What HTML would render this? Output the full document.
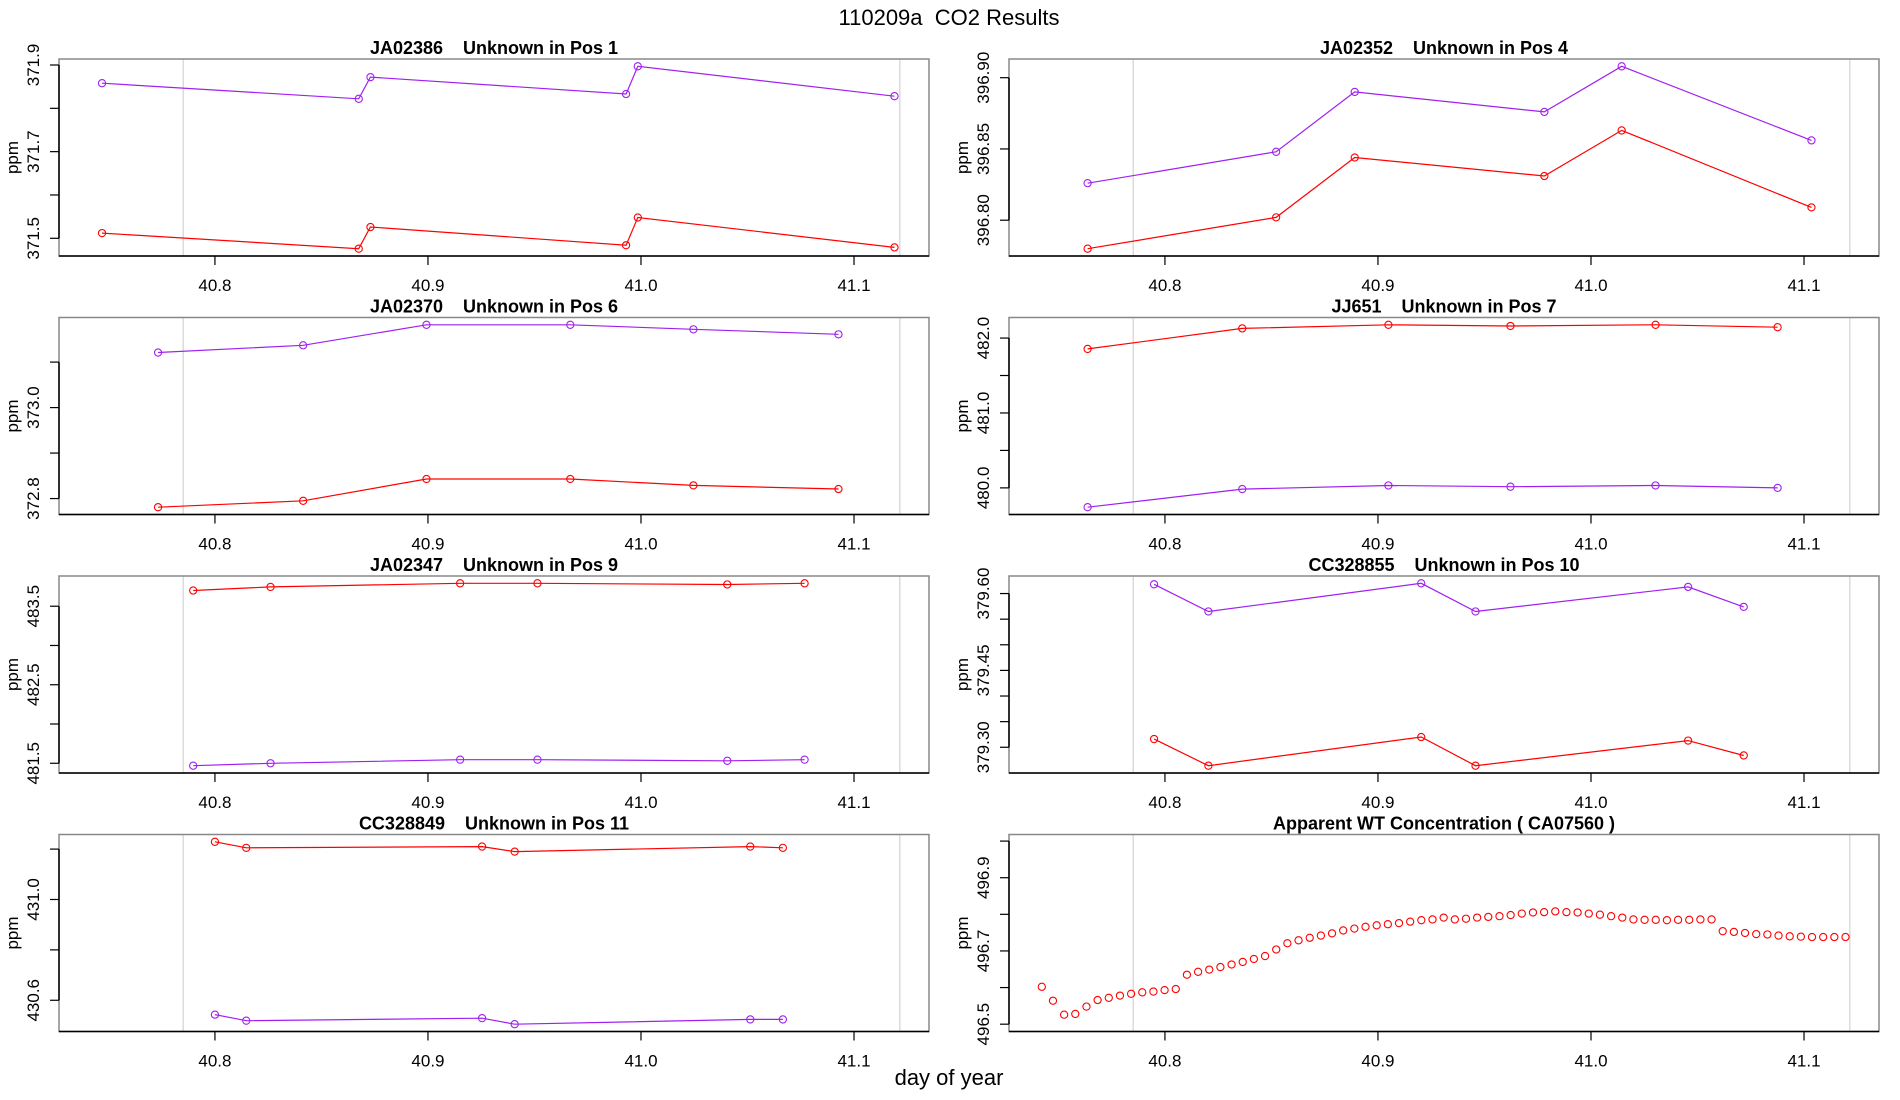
<!DOCTYPE html>
<html><head><meta charset="utf-8"><style>
html,body{margin:0;padding:0;background:#fff;}
svg{display:block;font-family:"Liberation Sans",sans-serif;}
svg text{white-space:pre;}
</style></head><body>
<svg id="chart" width="1900" height="1100" viewBox="0 0 1900 1100" xmlns="http://www.w3.org/2000/svg" xml:space="preserve">
<text x="949" y="25" font-size="22" text-anchor="middle">110209a  CO2 Results</text>
<text x="949" y="1085" font-size="22" text-anchor="middle">day of year</text>
</svg>
<script>
const xTicks = [40.8, 40.9, 41.0, 41.1];
const xTickLabels = ["40.8", "40.9", "41.0", "41.1"];
const grayLines = [40.7851, 41.1215];

const p1Days = [40.747, 40.8675, 40.873, 40.993, 40.9985, 41.119];
const p1Purple = [371.858, 371.822, 371.872, 371.833, 371.897, 371.828];
const p1Red = [371.512, 371.476, 371.526, 371.484, 371.548, 371.479];
const p1Ticks = [371.5, 371.6, 371.7, 371.8, 371.9];
const p1Labels = ["371.5", "", "371.7", "", "371.9"];

const p2Days = [40.7637, 40.8522, 40.8891, 40.9781, 41.0144, 41.1035];
const p2Purple = [396.826, 396.848, 396.890, 396.876, 396.908, 396.856];
const p2Red = [396.780, 396.802, 396.844, 396.831, 396.863, 396.809];
const p2Ticks = [396.80, 396.85, 396.90];
const p2Labels = ["396.80", "396.85", "396.90"];

const p3Days = [40.7733, 40.8414, 40.8993, 40.9668, 41.0246, 41.0927];
const p3Purple = [373.121, 373.137, 373.182, 373.182, 373.172, 373.161];
const p3Red = [372.781, 372.795, 372.843, 372.843, 372.829, 372.821];
const p3Ticks = [372.8, 372.9, 373.0, 373.1];
const p3Labels = ["372.8", "", "373.0", ""];

const p4Days = [40.7637, 40.8363, 40.9049, 40.9622, 41.0303, 41.0876];
const p4Purple = [479.742, 479.984, 480.032, 480.016, 480.032, 480.0];
const p4Red = [481.855, 482.129, 482.177, 482.161, 482.177, 482.145];
const p4Ticks = [480.0, 480.5, 481.0, 481.5, 482.0];
const p4Labels = ["480.0", "", "481.0", "", "482.0"];

const p5Days = [40.7898, 40.8261, 40.9151, 40.9514, 41.0405, 41.0768];
const p5Purple = [481.469, 481.5, 481.546, 481.546, 481.531, 481.546];
const p5Red = [483.70, 483.746, 483.792, 483.792, 483.777, 483.792];
const p5Ticks = [481.5, 482.0, 482.5, 483.0, 483.5];
const p5Labels = ["481.5", "", "482.5", "", "483.5"];

const p6Days = [40.7949, 40.8204, 40.9203, 40.9458, 41.0456, 41.0717];
const p6Purple = [379.618, 379.565, 379.620, 379.565, 379.613, 379.574];
const p6Red = [379.316, 379.264, 379.320, 379.264, 379.313, 379.284];
const p6Ticks = [379.30, 379.35, 379.40, 379.45, 379.50, 379.55, 379.60];
const p6Labels = ["379.30", "", "", "379.45", "", "", "379.60"];

const p7Days = [40.8, 40.8147, 40.9254, 40.9407, 41.0513, 41.0666];
const p7Purple = [430.543, 430.519, 430.529, 430.505, 430.524, 430.524];
const p7Red = [431.229, 431.205, 431.21, 431.19, 431.21, 431.205];
const p7Ticks = [430.6, 430.8, 431.0, 431.2];
const p7Labels = ["430.6", "", "431.0", ""];

const p8Start = 40.7422;
const p8Step = 0.00524;
const p8Values = [496.602,496.564,496.526,496.528,496.548,496.566,496.572,496.578,496.583,496.587,
496.589,496.593,496.596,496.635,496.643,496.649,496.656,496.663,496.670,496.678,
496.686,496.704,496.721,496.729,496.736,496.742,496.748,496.756,496.761,496.766,
496.770,496.773,496.776,496.780,496.784,496.786,496.791,496.786,496.788,496.791,
496.793,496.795,496.798,496.802,496.805,496.806,496.808,496.806,496.805,496.802,
496.799,496.795,496.791,496.786,496.785,496.785,496.784,496.785,496.785,496.786,
496.786,496.754,496.752,496.749,496.746,496.745,496.742,496.740,496.739,496.738,
496.738,496.738,496.738];
const p8Ylim = [496.48, 497.018];
const p8Ticks = [496.5, 496.6, 496.7, 496.8, 496.9, 497.0];
const p8Labels = ["496.5", "", "496.7", "", "496.9", ""];

const NS = "http://www.w3.org/2000/svg";
const svg = document.getElementById("chart");
const XLIM = [40.7268, 41.1352];
const PW = 870, PH = 197;
const LEFTS = [59, 1009];
const TOPS = [59, 317.5, 576, 834.5];
const PURPLE = "#A020F0", RED = "#FF0000";

function mk(tag, attrs, parent) {
  const e = document.createElementNS(NS, tag);
  for (const k in attrs) e.setAttribute(k, attrs[k]);
  (parent || svg).appendChild(e);
  return e;
}
function ext(arrs) {
  let mn = Infinity, mx = -Infinity;
  arrs.forEach(a => a.forEach(v => { mn = Math.min(mn, v); mx = Math.max(mx, v); }));
  const d = (mx - mn) * 0.04;
  return [mn - d, mx + d];
}

function panel(idx, title, days, series, ylim, ticks, labels) {
  const col = idx % 2, row = Math.floor(idx / 2);
  const L = LEFTS[col], T = TOPS[row], B = T + PH, R = L + PW;
  const g = mk("g", {});
  
  
  const sx = v => L + (v - XLIM[0]) / (XLIM[1] - XLIM[0]) * PW;
  const sy = v => B - (v - ylim[0]) / (ylim[1] - ylim[0]) * PH;

  grayLines.forEach(d => {
    const ln = mk("line", {x1: sx(d), x2: sx(d), y1: T, y2: B, stroke: "#d3d3d3", "stroke-width": 1.2}, g);
    
    
  });
  const box = mk("rect", {x: L, y: T, width: PW, height: PH, fill: "none", stroke: "#888", "stroke-width": 1.5}, g);
  
  

  const tt = mk("text", {x: L + PW / 2, y: T - 5, "font-size": 18, "font-weight": "bold", "text-anchor": "middle"}, g);
  tt.textContent = title;
  
  

  const xa = mk("line", {x1: L, x2: R, y1: B, y2: B, stroke: "#000", "stroke-width": 1.5}, g);
  
  
  xTicks.forEach((t, i) => {
    const tk = mk("line", {x1: sx(t), x2: sx(t), y1: B, y2: B + 9, stroke: "#000", "stroke-width": 1.2}, g);
    
    
    const lb = mk("text", {x: sx(t), y: B + 35, "font-size": 17, "text-anchor": "middle"}, g);
    lb.textContent = xTickLabels[i];
    
    
  });

  const ya = mk("line", {x1: L, x2: L, y1: sy(ticks[ticks.length - 1]), y2: sy(ticks[0]), stroke: "#000", "stroke-width": 1.5}, g);
  
  
  ticks.forEach((t, i) => {
    const y = sy(t);
    const tk = mk("line", {x1: L - 9, x2: L, y1: y, y2: y, stroke: "#000", "stroke-width": 1.2}, g);
    
    
    if (labels[i]) {
      const lb = mk("text", {x: 0, y: 0, "font-size": 17, "text-anchor": "middle", transform: `translate(${L - 20},${y}) rotate(-90)`}, g);
      lb.textContent = labels[i];
      
      
    }
  });
  const yl = mk("text", {x: 0, y: 0, "font-size": 17, "text-anchor": "middle", transform: `translate(${L - 41},${T + PH / 2}) rotate(-90)`}, g);
  yl.textContent = "ppm";
  
  

  series.forEach(s => {
    if (s.line) {
      const pts = days.map((d, i) => sx(d).toFixed(1) + "," + sy(s.values[i]).toFixed(1)).join(" ");
      const pl = mk("polyline", {points: pts, fill: "none", stroke: s.color, "stroke-width": 1.2}, g);
      
      
    }
    s.values.forEach((v, i) => {
      const c = mk("circle", {cx: sx(days[i]), cy: sy(v), r: 3.6, fill: "none", stroke: s.color, "stroke-width": 1.1}, g);
      
      
    });
  });
}

panel(0, "JA02386    Unknown in Pos 1", p1Days,
  [{name: "purple-series", color: PURPLE, values: p1Purple, line: true}, {name: "red-series", color: RED, values: p1Red, line: true}],
  ext([p1Purple, p1Red]), p1Ticks, p1Labels);
panel(1, "JA02352    Unknown in Pos 4", p2Days,
  [{name: "purple-series", color: PURPLE, values: p2Purple, line: true}, {name: "red-series", color: RED, values: p2Red, line: true}],
  ext([p2Purple, p2Red]), p2Ticks, p2Labels);
panel(2, "JA02370    Unknown in Pos 6", p3Days,
  [{name: "purple-series", color: PURPLE, values: p3Purple, line: true}, {name: "red-series", color: RED, values: p3Red, line: true}],
  ext([p3Purple, p3Red]), p3Ticks, p3Labels);
panel(3, "JJ651    Unknown in Pos 7", p4Days,
  [{name: "purple-series", color: PURPLE, values: p4Purple, line: true}, {name: "red-series", color: RED, values: p4Red, line: true}],
  ext([p4Purple, p4Red]), p4Ticks, p4Labels);
panel(4, "JA02347    Unknown in Pos 9", p5Days,
  [{name: "purple-series", color: PURPLE, values: p5Purple, line: true}, {name: "red-series", color: RED, values: p5Red, line: true}],
  ext([p5Purple, p5Red]), p5Ticks, p5Labels);
panel(5, "CC328855    Unknown in Pos 10", p6Days,
  [{name: "purple-series", color: PURPLE, values: p6Purple, line: true}, {name: "red-series", color: RED, values: p6Red, line: true}],
  ext([p6Purple, p6Red]), p6Ticks, p6Labels);
panel(6, "CC328849    Unknown in Pos 11", p7Days,
  [{name: "purple-series", color: PURPLE, values: p7Purple, line: true}, {name: "red-series", color: RED, values: p7Red, line: true}],
  ext([p7Purple, p7Red]), p7Ticks, p7Labels);
const p8Days = p8Values.map((v, i) => p8Start + i * p8Step);
panel(7, "Apparent WT Concentration ( CA07560 )", p8Days,
  [{name: "wt-concentration", color: RED, values: p8Values, line: false}],
  p8Ylim, p8Ticks, p8Labels);
</script>
</body></html>
